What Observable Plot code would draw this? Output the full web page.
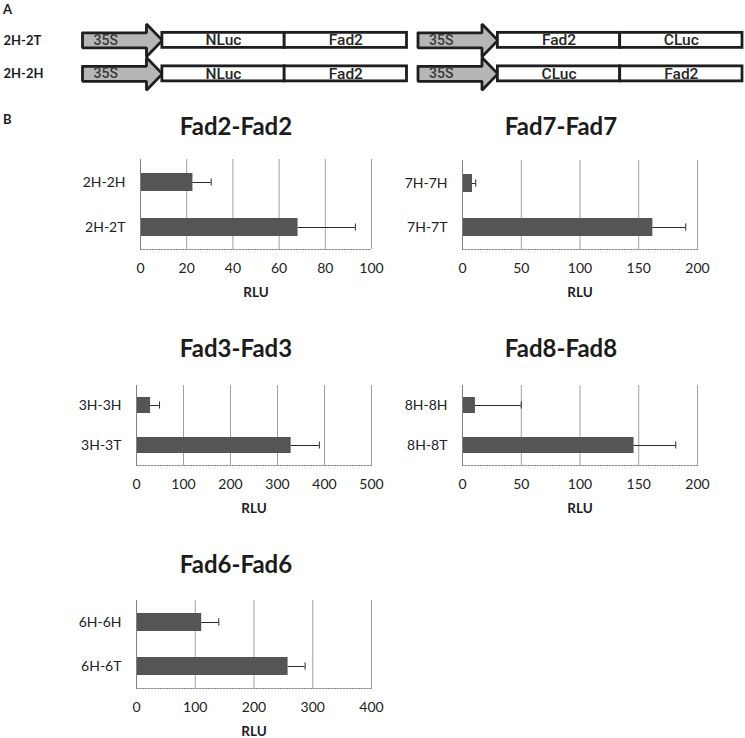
<!DOCTYPE html>
<html><head><meta charset="utf-8">
<script src="https://cdn.jsdelivr.net/npm/d3@7"></script>
<script src="https://cdn.jsdelivr.net/npm/@observablehq/plot@0.6"></script>
<style>
body{margin:0;background:#fff;}
#fig{position:relative;width:745px;height:738px;overflow:hidden;background:#fff;font-family:Lato,sans-serif;color:#222;}
#fig svg{position:absolute;overflow:visible;}
.title{position:absolute;font-family:Lato,sans-serif;font-weight:bold;font-size:24px;line-height:1;transform:translateX(-50%);white-space:nowrap;color:#1c1c1c;}
.plabel{position:absolute;font-family:Lato,sans-serif;font-weight:bold;font-size:13px;line-height:1;color:#1c1c1c;}
</style></head><body><div id="fig"></div>
<script>
// ---------- Panel A data ----------
const rowsA = ["2H-2T", "2H-2H"];
const promoterA = "35S";
const leftPartsA = [["NLuc", "Fad2"], ["NLuc", "Fad2"]];
const rightPartsA = [["Fad2", "CLuc"], ["CLuc", "Fad2"]];

// ---------- Panel B data ----------
const fad2Cats = ["2H-2H", "2H-2T"];
const fad2Vals = [22.7, 68.2];
const fad2Errs = [7.9, 24.8];
const fad2Ticks = [0, 20, 40, 60, 80, 100];

const fad7Cats = ["7H-7H", "7H-7T"];
const fad7Vals = [8.5, 162];
const fad7Errs = [2.8, 28];
const fad7Ticks = [0, 50, 100, 150, 200];

const fad3Cats = ["3H-3H", "3H-3T"];
const fad3Vals = [30, 329];
const fad3Errs = [19, 60];
const fad3Ticks = [0, 100, 200, 300, 400, 500];

const fad8Cats = ["8H-8H", "8H-8T"];
const fad8Vals = [11, 146];
const fad8Errs = [39, 35.5];
const fad8Ticks = [0, 50, 100, 150, 200];

const fad6Cats = ["6H-6H", "6H-6T"];
const fad6Vals = [111, 258];
const fad6Errs = [29, 29];
const fad6Ticks = [0, 100, 200, 300, 400];

const chartTitles = ["Fad2-Fad2", "Fad7-Fad7", "Fad3-Fad3", "Fad8-Fad8", "Fad6-Fad6"];
const axisLabel = "RLU";

const fig = document.getElementById("fig");
function place(el, left, top) { el.style.left = left + "px"; el.style.top = top + "px"; fig.appendChild(el); }
function div(cls, text, left, top) { const d = document.createElement("div"); d.className = cls; d.textContent = text; place(d, left, top); return d; }

// ---------- Panel A (construct diagram) ----------
const ARROW = 0.653, HEAD = 0.13, PART = 1, GAP = 0.09, SH = 0.224, HH = 0.49;
const CON = ARROW + 2 * PART;
const totalA = 2 * CON + GAP;
const arrowPts = [], arrowTxt = [], boxes = [];
rowsA.forEach((row, r) => {
  [leftPartsA[r], rightPartsA[r]].forEach((parts, c) => {
    const s = c * (CON + GAP);
    const id = r + "-" + c;
    const b = s + ARROW - HEAD;
    [[s, r - SH], [b, r - SH], [b, r - HH], [s + ARROW, r], [b, r + HH], [b, r + SH], [s, r + SH], [s, r - SH]]
      .forEach(([x, y]) => arrowPts.push({id, x, y}));
    arrowTxt.push({x: s + 0.09, y: r, text: promoterA});
    parts.forEach((label, p) => {
      const x1 = s + ARROW + p * PART;
      boxes.push({x1, x2: x1 + PART, r, label});
    });
  });
});
const panelA = Plot.plot({
  width: 745, height: 100,
  marginLeft: 82, marginRight: 3, marginTop: 0, marginBottom: 0,
  style: {background: "transparent", overflow: "visible"},
  x: {domain: [0, totalA], axis: null},
  y: {domain: [-1.19, 1.795], range: [0, 100], axis: null},
  marks: [
    Plot.line(arrowPts, {x: "x", y: "y", z: "id", fill: "#b6b6b6", stroke: "#1e1e1e", strokeWidth: 2.8, strokeLinejoin: "miter", curve: "linear"}),
    Plot.rect(boxes, {x1: "x1", x2: "x2", y1: d => d.r - SH, y2: d => d.r + SH, fill: "white", stroke: "#1e1e1e", strokeWidth: 2.8}),
    Plot.text(arrowTxt, {x: "x", y: "y", text: "text", textAnchor: "start", fontSize: 14, fontWeight: 500, fontFamily: "Roboto", fill: "#3a3a3a"}),
    Plot.text(boxes, {x: d => (d.x1 + d.x2) / 2, y: "r", text: "label", fontSize: 15.5, fontWeight: 500, fontFamily: "Roboto", fill: "#262626"}),
    Plot.text(rowsA, {y: (d, i) => i, frameAnchor: "left", dx: -79, textAnchor: "start", text: d => d, fontWeight: "bold", fontSize: 13, fontFamily: "Lato", fill: "#1c1c1c"})
  ]
});
place(panelA, 0, 0);
div("plabel", "A", 3, 3);
div("plabel", "B", 3, 113);

// ---------- Panel B charts ----------
function chart(cats, vals, errs, ticks, box) {
  const {x0, x1, top, bottom} = box;
  const mL = 100, mR = 30, mT = 5, mB = 55;
  const data = cats.map((c, i) => ({c, v: vals[i], e: errs[i]}));
  const plotH = bottom - top, plotW = x1 - x0;
  const bw = plotH / 2 * 0.4;
  const cap = Math.max(0, (bw - 7) / 2);
  const max = ticks[ticks.length - 1];
  const p = Plot.plot({
    width: plotW + mL + mR, height: plotH + mT + mB,
    marginLeft: mL, marginRight: mR, marginTop: mT, marginBottom: mB,
    style: {fontFamily: "Lato", fontSize: "14px", color: "#222", background: "transparent", overflow: "visible"},
    x: {domain: [0, max], ticks: ticks, tickSize: 0, tickPadding: 14, label: null},
    y: {domain: cats, paddingInner: 0.6, paddingOuter: 0.3, tickSize: 0, tickPadding: 15, label: null},
    marks: [
      Plot.ruleX(ticks, {stroke: "#a0a0a0", strokeWidth: 1}),
      Plot.frame({anchor: "bottom", stroke: "#8a8a8a", strokeDasharray: "1.5,1.5"}),
      Plot.barX(data, {x: "v", y: "c", fill: "#555"}),
      Plot.ruleY(data, {y: "c", x1: "v", x2: d => d.v + d.e, stroke: "#2a2a2a", strokeWidth: 1}),
      Plot.tickX(data, {x: d => d.v + d.e, y: "c", stroke: "#2a2a2a", strokeWidth: 1, insetTop: cap, insetBottom: cap}),
      Plot.ruleX([0], {stroke: "#808080"}),
      Plot.text([axisLabel], {frameAnchor: "bottom", dy: 43.5, fontWeight: "bold", fontSize: 13.5, lineAnchor: "middle", fill: "#1c1c1c"})
    ]
  });
  place(p, x0 - mL, top - mT);
}

const boxes2 = {x0: 140, x1: 371, top: 159, bottom: 249};
const boxes7 = {x0: 462, x1: 697, top: 160, bottom: 249};
const boxes3 = {x0: 136, x1: 371, top: 385, bottom: 465};
const boxes8 = {x0: 462, x1: 697, top: 385, bottom: 465};
const boxes6 = {x0: 136, x1: 371, top: 600, bottom: 688};

chart(fad2Cats, fad2Vals, fad2Errs, fad2Ticks, boxes2);
chart(fad7Cats, fad7Vals, fad7Errs, fad7Ticks, boxes7);
chart(fad3Cats, fad3Vals, fad3Errs, fad3Ticks, boxes3);
chart(fad8Cats, fad8Vals, fad8Errs, fad8Ticks, boxes8);
chart(fad6Cats, fad6Vals, fad6Errs, fad6Ticks, boxes6);

// titles (baseline y minus ascent)
const titlePos = [[236, 135], [561, 135], [236, 357], [561, 357], [236, 573]];
chartTitles.forEach((t, i) => div("title", t, titlePos[i][0], titlePos[i][1] - 21));
</script></body></html>
